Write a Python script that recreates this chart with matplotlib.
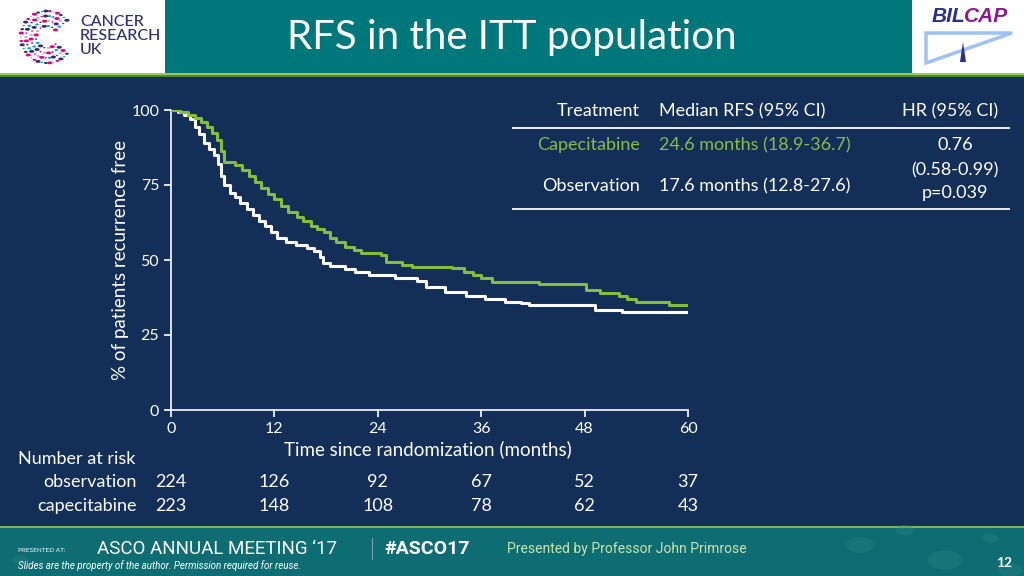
import numpy as np
import matplotlib
matplotlib.use("Agg")
import matplotlib.pyplot as plt
from matplotlib.patches import Rectangle, Polygon, Circle

plt.rcParams['font.family'] = ['Lato', 'DejaVu Sans']

# ---------------- data ----------------
obs_t = [0, 0.8, 1.5, 2.2, 2.8, 3.3, 3.8, 4.4, 5.0, 5.4, 5.8, 6.2, 6.8, 7.4, 8.0, 8.8, 9.5,
         10.2, 10.9, 11.6, 12.3, 13.3, 14.5, 15.8, 16.6, 17.3, 17.6, 18.5, 20.2, 21.4, 23.0,
         26.0, 28.6, 29.6, 31.8, 34.2, 36.4, 38.8, 40.6, 41.6, 49.2, 52.3, 60]
obs_s = [100, 99.3, 98.5, 97, 94.5, 92, 89, 87, 85, 82, 78, 75, 72.5, 71, 69, 67, 65,
         63, 61.5, 59.5, 57.5, 56, 55, 54, 53, 51, 49, 48, 47, 46, 45,
         44, 43, 41, 39.5, 38, 37, 36, 35.7, 35, 33.3, 32.7, 32.7]

cap_t = [0, 1.0, 2.0, 2.8, 3.5, 4.2, 4.8, 5.3, 5.8, 6.2, 7.4, 8.2, 9.0, 9.8, 10.4, 11.2,
         12.0, 12.8, 13.6, 14.6, 15.3, 16.2, 17.0, 17.8, 18.4, 19.2, 20.2, 21.2, 22.0, 24.4,
         25.0, 26.8, 28.0, 32.6, 34.0, 35.0, 36.0, 37.2, 42.7, 48.2, 49.8, 52.0, 52.9, 54.0,
         57.8, 60]
cap_s = [100, 99.3, 98.3, 97.3, 96, 94.5, 92.5, 90, 86.5, 82.7, 81.7, 80, 78, 76, 74, 72,
         70.5, 68, 66, 64.5, 63, 61.5, 60.5, 59.5, 57.5, 56, 54.5, 53.3, 52.3, 51.7,
         49.5, 48.3, 47.7, 47.3, 46, 45, 44, 42.7, 42, 40, 39, 38, 37, 36,
         35, 35]

x_ticks = [0, 12, 24, 36, 48, 60]
y_ticks = [0, 25, 50, 75, 100]
risk_obs = [224, 126, 92, 67, 52, 37]
risk_cap = [223, 148, 108, 78, 62, 43]

table_header = ["Treatment", "Median RFS (95% CI)", "HR (95% CI)"]
table_groups = ["Capecitabine", "Observation"]
table_medians = ["24.6 months (18.9-36.7)", "17.6 months (12.8-27.6)"]
table_hr = ["0.76", "(0.58-0.99)", "p=0.039"]

# ---------------- style ----------------
NAVY = '#132E57'
TEAL = '#00777A'
GREEN_LINE = '#86BE3C'
GREEN_TXT = '#8DB94E'
FS = 13
W, H = 1024, 576

fig = plt.figure(figsize=(W / 100, H / 100), dpi=100)
fig.patch.set_facecolor(NAVY)


def fx(x):
    return x / W


def fy(y):
    return 1 - y / H


def frect(x0, y0, x1, y1, color, z=0, **kw):
    fig.patches.append(Rectangle((fx(x0), fy(y1)), fx(x1 - x0), (y1 - y0) / H,
                                 transform=fig.transFigure, facecolor=color,
                                 edgecolor='none', zorder=z, **kw))


def ftext(x, y, s, **kw):
    fig.text(fx(x), fy(y), s, **kw)


# header
frect(0, 0, W, 73, TEAL)
frect(0, 0, 165, 73, 'white', z=1)
frect(912, 0, W, 73, 'white', z=1)
frect(0, 73, W, 75, '#9CCB5A', z=2)
frect(0, 75, W, 77, '#4F8A3A', z=2)
ftext(512, 38, "RFS in the ITT population", color='white', fontsize=29,
      ha='center', va='center')

# CRUK logo: dots in a C shape
cols = ['#E6007E', '#2E2D78', '#1B9BD7', '#2E2D78', '#E6007E', '#B9B9D6']
k = 0
for r in [11, 16, 21, 26]:
    n = int(r * 1.3)
    for i in range(n):
        a = np.deg2rad(40 + 280 * i / (n - 1))
        cx, cy = 47 + r * np.cos(a), 37 - r * np.sin(a)
        size = 1.2 + 1.4 * ((i * 7 + r) % 3) / 2
        fig.patches.append(Circle((fx(cx), fy(cy)), size / W, transform=fig.transFigure,
                                  facecolor=cols[k % len(cols)], edgecolor='none', zorder=3))
        k += 1
ftext(80, 36, "CANCER\nRESEARCH\nUK", color='#2E2D6E', fontsize=11.5, ha='left',
      va='center', linespacing=1.0, fontweight='medium', zorder=4)

# BILCAP logo
ftext(965, 16, "BIL", color='#2B2E8C', fontsize=15, fontweight='bold', style='italic',
      ha='right', va='center', family=['Liberation Sans', 'DejaVu Sans'], zorder=4)
ftext(964, 16, "CAP", color='#8B1A8B', fontsize=15, fontweight='bold', style='italic',
      ha='left', va='center', family=['Liberation Sans', 'DejaVu Sans'], zorder=4)
fig.patches.append(Polygon([(fx(926), fy(33)), (fx(1012), fy(33)), (fx(926), fy(63))],
                           closed=True, transform=fig.transFigure, facecolor='none',
                           edgecolor='#9EC3EE', linewidth=2.5, zorder=4))
fig.patches.append(Polygon([(fx(960), fy(62)), (fx(963), fy(42)), (fx(966), fy(62))],
                           closed=True, transform=fig.transFigure, facecolor='#2B2E8C',
                           edgecolor='none', zorder=5))

# footer
frect(0, 526, W, 528, '#7DB94A', z=1)
frect(0, 528, W, H, '#0D6D73', z=1)
for (cx, cy, r) in [(860, 545, 14), (905, 530, 9), (945, 560, 17), (990, 538, 8),
                    (1010, 570, 12), (20, 560, 8)]:
    fig.patches.append(Circle((fx(cx), fy(cy)), r / W, transform=fig.transFigure,
                              facecolor='#2F8A8C', edgecolor='none', alpha=0.3, zorder=2))
ftext(18, 550, "PRESENTED AT:", color='white', fontsize=4.6, ha='left', va='center', zorder=3)
ftext(97, 549, "ASCO ANNUAL MEETING \u201817", color='white', fontsize=13.5, ha='left',
      va='center', family=['Roboto', 'DejaVu Sans'], zorder=3)
frect(372, 538, 373, 560, '#7FA8AA', z=3)
ftext(384, 549, "#ASCO17", color='white', fontsize=14, fontweight='bold', ha='left',
      va='center', family=['Roboto', 'DejaVu Sans'], zorder=3)
ftext(507, 549, "Presented by Professor John Primrose", color='#CFE3A6', fontsize=10,
      ha='left', va='center', family=['Roboto', 'DejaVu Sans'], zorder=3)
ftext(18, 566, "Slides are the property of the author. Permission required for reuse.",
      color='white', fontsize=7, style='italic', ha='left', va='center',
      family=['Roboto', 'DejaVu Sans'], zorder=3)
ftext(1012, 563, "12", color='white', fontsize=10, fontweight='bold', ha='right',
      va='center', zorder=3)

# ---------------- KM plot ----------------
ax = fig.add_axes([fx(171), fy(410), fx(688) - fx(171), 300 / H])
ax.set_facecolor('none')
ax.step(obs_t, obs_s, where='post', color='white', linewidth=2.2, zorder=3)
ax.step(cap_t, cap_s, where='post', color=GREEN_LINE, linewidth=2.2, zorder=3)
ax.set_xlim(0, 60)
ax.set_ylim(0, 100)
ax.set_xticks(x_ticks)
ax.set_yticks(y_ticks)
for s in ['top', 'right']:
    ax.spines[s].set_visible(False)
for s in ['left', 'bottom']:
    ax.spines[s].set_color('white')
    ax.spines[s].set_linewidth(1.2)
ax.tick_params(colors='white', labelsize=11.5, length=5, width=1.2, direction='out')
ax.set_xlabel("Time since randomization (months)", color='white', fontsize=13.5)
ax.set_ylabel("% of patients recurrence free", color='white', fontsize=13.5)
ax.xaxis.set_label_coords(0.497, -0.13)
ax.xaxis.label.set_va('center')
ax.yaxis.set_label_coords(-0.097, 0.5)
ax.yaxis.label.set_va('center')
ax.patch.set_alpha(0)

# number at risk
ftext(18, 459, "Number at risk", color='white', fontsize=FS, ha='left', va='center')
ftext(137, 482, "observation", color='white', fontsize=FS, ha='right', va='center')
ftext(137, 506, "capecitabine", color='white', fontsize=FS, ha='right', va='center')
for t, a, b in zip(x_ticks, risk_obs, risk_cap):
    xp = ax.transData.transform((t, 0))[0]
    fig.text(xp / fig.bbox.width, fy(482), str(a), color='white', fontsize=FS,
             ha='center', va='center')
    fig.text(xp / fig.bbox.width, fy(506), str(b), color='white', fontsize=FS,
             ha='center', va='center')

# table
ftext(640, 111, table_header[0], color='white', fontsize=FS, ha='right', va='center')
ftext(659, 111, table_header[1], color='white', fontsize=FS, ha='left', va='center')
ftext(998, 111, table_header[2], color='white', fontsize=FS, ha='right', va='center')
frect(512, 127, 1010, 129, '#E6E6E6', z=3)
ftext(640, 145, table_groups[0], color=GREEN_TXT, fontsize=FS, ha='right', va='center')
ftext(659, 145, table_medians[0], color=GREEN_TXT, fontsize=FS, ha='left', va='center')
ftext(640, 186, table_groups[1], color='white', fontsize=FS, ha='right', va='center')
ftext(659, 186, table_medians[1], color='white', fontsize=FS, ha='left', va='center')
ftext(955, 145, table_hr[0], color='white', fontsize=FS, ha='center', va='center')
ftext(955, 170, table_hr[1], color='white', fontsize=FS, ha='center', va='center')
ftext(955, 193, table_hr[2], color='white', fontsize=FS, ha='center', va='center')
frect(512, 208, 1010, 210, '#E6E6E6', z=3)

fig.savefig("out.png", dpi=100, facecolor=fig.get_facecolor())
